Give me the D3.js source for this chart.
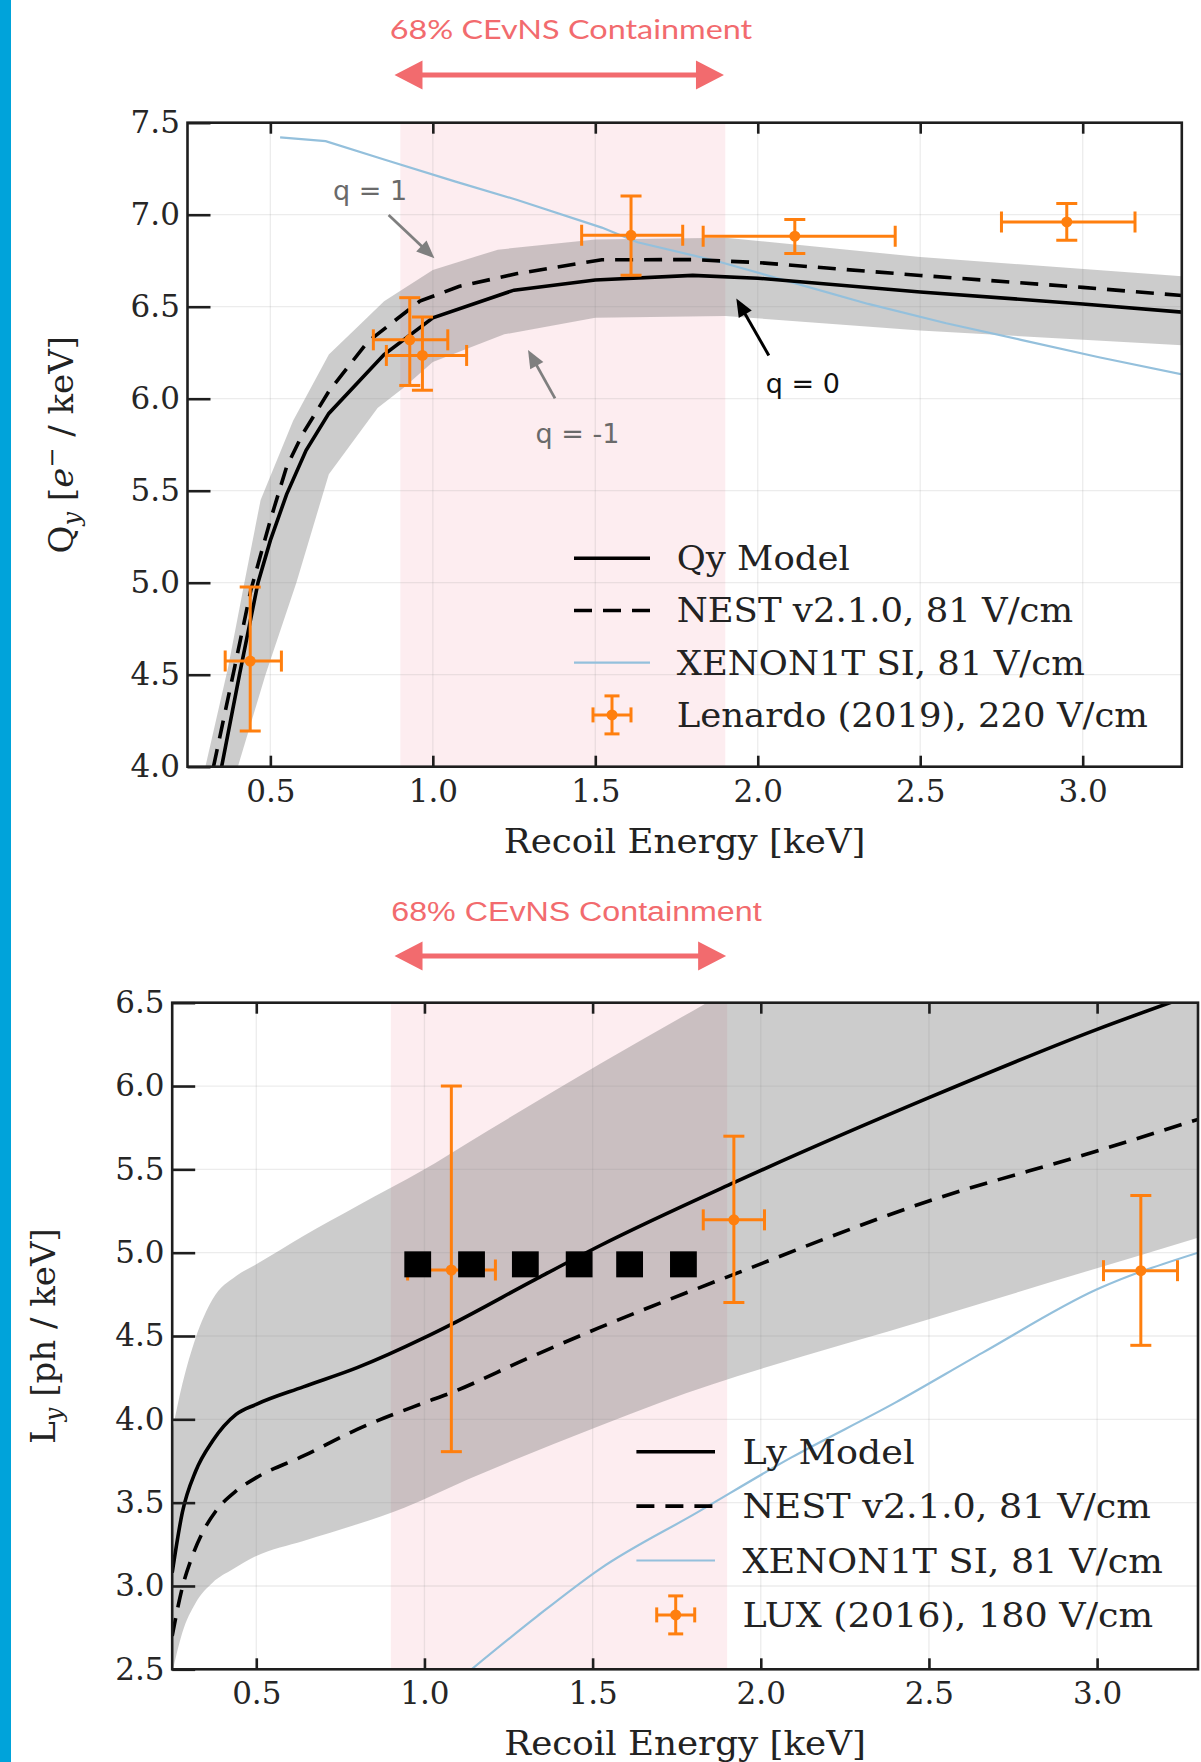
<!DOCTYPE html>
<html>
<head>
<meta charset="utf-8">
<script src="https://cdn.jsdelivr.net/npm/d3@7"></script>
<style>
  html, body { margin: 0; padding: 0; background: #fff; }
  svg { display: block; }
</style>
</head>
<body>
<svg id="fig" width="1201" height="1762"></svg>
<script>
// ---------------- data ----------------
const xTicks = [0.5, 1.0, 1.5, 2.0, 2.5, 3.0];
const qyTicks = [4.0, 4.5, 5.0, 5.5, 6.0, 6.5, 7.0, 7.5];
const lyTicks = [2.5, 3.0, 3.5, 4.0, 4.5, 5.0, 5.5, 6.0, 6.5];

// 68% CEvNS containment window [keV]
const containment = [0.9, 1.9];
const containmentArrowQy = [0.882, 1.896];
const containmentArrowLy = [0.911, 1.897];

// Charge yield panel
const energyQyModel = [0.35, 0.405, 0.462, 0.50, 0.55, 0.61, 0.68, 0.85, 1.00, 1.25, 1.50, 1.80, 2.00, 2.50, 3.00, 3.31];
const qyModel       = [4.00, 4.50, 5.00, 5.23, 5.48, 5.72, 5.92, 6.24, 6.44, 6.59, 6.645, 6.67, 6.655, 6.58, 6.515, 6.47];

const energyNestQy = [0.325, 0.39, 0.44, 0.50, 0.55, 0.60, 0.68, 0.80, 0.96, 1.08, 1.26, 1.52, 1.80, 2.00, 2.50, 3.00, 3.31];
const nestQy       = [4.00, 4.54, 4.96, 5.34, 5.63, 5.81, 6.04, 6.31, 6.53, 6.61, 6.68, 6.755, 6.756, 6.74, 6.67, 6.605, 6.56];

const energyQyUpper = [0.30, 0.37, 0.42, 0.47, 0.57, 0.68, 0.78, 0.85, 1.00, 1.20, 1.50, 1.90, 2.50, 3.31];
const qyUpper       = [4.00, 4.54, 5.00, 5.45, 5.88, 6.24, 6.41, 6.53, 6.70, 6.81, 6.865, 6.875, 6.77, 6.665];
const energyQyLower = [0.40, 0.485, 0.58, 0.68, 0.83, 0.91, 1.00, 1.22, 1.50, 1.90, 2.50, 3.31];
const qyLower       = [4.00, 4.50, 5.00, 5.59, 5.95, 6.06, 6.20, 6.35, 6.44, 6.45, 6.37, 6.29];

const energyXenonQy = [0.53, 0.67, 0.85, 1.07, 1.26, 1.52, 1.63, 1.87, 2.10, 2.34, 2.58, 2.81, 3.05, 3.31];
const xenonQy       = [7.42, 7.40, 7.30, 7.18, 7.08, 6.93, 6.85, 6.75, 6.635, 6.515, 6.41, 6.32, 6.225, 6.13];

const lenardoE    = [0.438, 0.929, 0.968, 1.610, 2.114, 2.951];
const lenardoQy   = [4.574, 6.320, 6.235, 6.888, 6.883, 6.961];
const lenardoElo  = [0.361, 0.817, 0.857, 1.458, 1.832, 2.750];
const lenardoEhi  = [0.534, 1.046, 1.104, 1.769, 2.423, 3.161];
const lenardoQylo = [4.194, 6.072, 6.046, 6.671, 6.789, 6.861];
const lenardoQyhi = [4.976, 6.549, 6.444, 7.101, 6.974, 7.061];

// Light yield panel
const energyLyModel = [0.25, 0.28, 0.32, 0.37, 0.44, 0.50, 0.64, 0.80, 1.00, 1.08, 1.33, 1.52, 1.92, 2.50, 3.00, 3.30];
const lyModel       = [3.08, 3.44, 3.69, 3.87, 4.03, 4.09, 4.195, 4.31, 4.49, 4.57, 4.84, 5.04, 5.42, 5.93, 6.34, 6.56];

const energyNestLy = [0.25, 0.28, 0.31, 0.34, 0.38, 0.44, 0.50, 0.64, 0.80, 1.00, 1.08, 1.30, 1.52, 1.92, 2.50, 3.00, 3.30];
const nestLy       = [2.70, 2.99, 3.18, 3.32, 3.45, 3.57, 3.65, 3.78, 3.94, 4.10, 4.16, 4.36, 4.55, 4.87, 5.31, 5.61, 5.80];

const energyLyUpper = [0.25, 0.28, 0.32, 0.37, 0.44, 0.50, 0.64, 0.80, 1.00, 1.13, 1.52, 1.84, 3.30];
const lyUpper       = [3.93, 4.21, 4.49, 4.72, 4.86, 4.93, 5.10, 5.28, 5.50, 5.66, 6.13, 6.50, 8.18];
const energyLyLower = [0.25, 0.28, 0.32, 0.37, 0.43, 0.50, 0.64, 0.80, 0.94, 1.13, 1.52, 1.70, 2.50, 3.30];
const lyLower       = [2.48, 2.72, 2.90, 3.02, 3.10, 3.18, 3.27, 3.37, 3.47, 3.64, 3.96, 4.10, 4.60, 5.09];

const energyXenonLy = [1.14, 1.33, 1.52, 1.81, 2.09, 2.40, 2.66, 3.00, 3.30];
const xenonLy       = [2.50, 2.81, 3.10, 3.44, 3.77, 4.10, 4.40, 4.78, 5.00];

const luxE    = [1.080, 1.920, 3.130];
const luxLy   = [4.896, 5.197, 4.892];
const luxElo  = [0.950, 1.829, 3.019];
const luxEhi  = [1.211, 2.011, 3.239];
const luxLylo = [3.806, 4.701, 4.444];
const luxLyhi = [6.000, 5.699, 5.343];

const squareE  = [0.98, 1.14, 1.30, 1.46, 1.61, 1.77];
const squareLy = [4.93, 4.93, 4.93, 4.93, 4.93, 4.93];

const legendQy = ["Qy Model", "NEST v2.1.0, 81 V/cm", "XENON1T SI, 81 V/cm", "Lenardo (2019), 220 V/cm"];
const legendLy = ["Ly Model", "NEST v2.1.0, 81 V/cm", "XENON1T SI, 81 V/cm", "LUX (2016), 180 V/cm"];

// ---------------- styling ----------------
const SERIF = "'DejaVu Serif', serif";
const SANS = "'DejaVu Sans', sans-serif";
const ORANGE = "#ff7f0e";
const BLUE = "#94c0dc";
const SALMON = "#f26b6e";
const PINK = "#fdedf0";
const INK = "#1e1e1e";

const svg = d3.select("#fig");
const defs = svg.append("defs");

// accent bar along the left edge
svg.append("rect").attr("x", 0).attr("y", 0).attr("width", 11).attr("height", 1762).attr("fill", "#00a3da");

const zip = (a, b) => a.map((v, i) => [v, b[i]]);

function errorbars(g, x, y, E, V, Elo, Ehi, Vlo, Vhi) {
  const cap = 10.5, lw = 3;
  E.forEach((e, i) => {
    const cx = x(e), cy = y(V[i]);
    const gg = g.append("g").attr("stroke", ORANGE).attr("stroke-width", lw).attr("fill", "none");
    gg.append("line").attr("x1", x(Elo[i])).attr("x2", x(Ehi[i])).attr("y1", cy).attr("y2", cy);
    gg.append("line").attr("x1", cx).attr("x2", cx).attr("y1", y(Vlo[i])).attr("y2", y(Vhi[i]));
    gg.append("line").attr("x1", x(Elo[i])).attr("x2", x(Elo[i])).attr("y1", cy - cap).attr("y2", cy + cap);
    gg.append("line").attr("x1", x(Ehi[i])).attr("x2", x(Ehi[i])).attr("y1", cy - cap).attr("y2", cy + cap);
    gg.append("line").attr("x1", cx - cap).attr("x2", cx + cap).attr("y1", y(Vlo[i])).attr("y2", y(Vlo[i]));
    gg.append("line").attr("x1", cx - cap).attr("x2", cx + cap).attr("y1", y(Vhi[i])).attr("y2", y(Vhi[i]));
    g.append("circle").attr("cx", cx).attr("cy", cy).attr("r", 5.5).attr("fill", ORANGE);
  });
}

function pointer(g, x1, y1, x2, y2, color, lw, hl, hw) {
  const dx = x2 - x1, dy = y2 - y1, L = Math.hypot(dx, dy), ux = dx / L, uy = dy / L;
  const bx = x2 - ux * hl, by = y2 - uy * hl;
  g.append("line").attr("x1", x1).attr("y1", y1).attr("x2", bx + ux * 2).attr("y2", by + uy * 2)
    .attr("stroke", color).attr("stroke-width", lw);
  g.append("path")
    .attr("d", `M${x2},${y2}L${bx - uy * hw / 2},${by + ux * hw / 2}L${bx + uy * hw / 2},${by - ux * hw / 2}Z`)
    .attr("fill", color);
}

function doubleArrow(g, x1, x2, yc, color) {
  const hl = 28, hw = 14.5, sw = 2.6;
  const d = `M${x1},${yc}L${x1 + hl},${yc - hw}L${x1 + hl},${yc - sw}L${x2 - hl},${yc - sw}L${x2 - hl},${yc - hw}` +
            `L${x2},${yc}L${x2 - hl},${yc + hw}L${x2 - hl},${yc + sw}L${x1 + hl},${yc + sw}L${x1 + hl},${yc + hw}Z`;
  g.append("path").attr("d", d).attr("fill", color);
}

function drawPanel(cfg) {
  const g = svg.append("g");
  const x = d3.scaleLinear().domain(cfg.xDomain).range([cfg.left, cfg.right]);
  const y = d3.scaleLinear().domain(cfg.yDomain).range([cfg.bottom, cfg.top]);
  const w = cfg.right - cfg.left, h = cfg.bottom - cfg.top;

  defs.append("clipPath").attr("id", cfg.id + "-clip")
    .append("rect").attr("x", cfg.left).attr("y", cfg.top).attr("width", w).attr("height", h);
  const plot = g.append("g").attr("clip-path", `url(#${cfg.id}-clip)`);

  // containment window
  plot.append("rect").attr("x", x(containment[0])).attr("width", x(containment[1]) - x(containment[0]))
    .attr("y", cfg.top).attr("height", h).attr("fill", PINK);

  // q = -1 .. +1 uncertainty band
  const line = d3.line().x(d => x(d[0])).y(d => y(d[1])).curve(cfg.curve);
  const upPath = line(zip(cfg.upperE, cfg.upperV));
  const loPath = line(zip(cfg.lowerE, cfg.lowerV).reverse());
  plot.append("path").attr("d", upPath + "L" + loPath.slice(1) + "Z")
    .attr("fill", "#555").attr("fill-opacity", 0.3);

  // grid
  const grid = plot.append("g").attr("stroke", "#888").attr("stroke-opacity", 0.16).attr("stroke-width", 1.3);
  xTicks.forEach(t => grid.append("line").attr("x1", x(t)).attr("x2", x(t)).attr("y1", cfg.top).attr("y2", cfg.bottom));
  cfg.yTicks.forEach(t => grid.append("line").attr("x1", cfg.left).attr("x2", cfg.right).attr("y1", y(t)).attr("y2", y(t)));

  // curves
  plot.append("path").attr("d", line(zip(cfg.xenonE, cfg.xenonV))).attr("fill", "none")
    .attr("stroke", BLUE).attr("stroke-width", 2.2);
  plot.append("path").attr("d", line(zip(cfg.nestE, cfg.nestV))).attr("fill", "none")
    .attr("stroke", "#000").attr("stroke-width", 3.6).attr("stroke-dasharray", "18,11");
  plot.append("path").attr("d", line(zip(cfg.modelE, cfg.modelV))).attr("fill", "none")
    .attr("stroke", "#000").attr("stroke-width", 3.6);

  // measurements
  errorbars(plot, x, y, cfg.dataE, cfg.dataV, cfg.dataElo, cfg.dataEhi, cfg.dataVlo, cfg.dataVhi);

  if (cfg.squaresE) {
    cfg.squaresE.forEach((e, i) => {
      plot.append("rect").attr("x", x(e) - 13.4).attr("y", y(cfg.squaresV[i]) - 13)
        .attr("width", 26.8).attr("height", 26).attr("fill", "#000");
    });
  }

  // axes
  const axB = g.append("g").attr("transform", `translate(0,${cfg.bottom})`)
    .call(d3.axisBottom(x).tickValues(xTicks).tickSize(-11).tickPadding(13).tickFormat(d3.format(".1f")));
  const axT = g.append("g").attr("transform", `translate(0,${cfg.top})`)
    .call(d3.axisTop(x).tickValues(xTicks).tickSize(-11).tickFormat(""));
  const axL = g.append("g").attr("transform", `translate(${cfg.left},0)`)
    .call(d3.axisLeft(y).tickValues(cfg.yTicks).tickSize(-23).tickPadding(7.6).tickFormat(d3.format(".1f")));
  [axB, axT, axL].forEach(a => {
    a.select(".domain").remove();
    a.selectAll(".tick line").attr("stroke", INK).attr("stroke-width", 2.6);
    a.selectAll(".tick text").attr("fill", "#262626").style("font-family", SERIF).style("font-size", "31px");
  });

  // frame
  g.append("rect").attr("x", cfg.left).attr("y", cfg.top).attr("width", w).attr("height", h)
    .attr("fill", "none").attr("stroke", INK).attr("stroke-width", 2.6);

  // axis titles
  g.append("text")
    .attr("transform", `translate(${(cfg.left + cfg.right) / 2},${cfg.xLabelY}) scale(1.05,1)`)
    .attr("text-anchor", "middle").style("font-family", SERIF).style("font-size", "34px").attr("fill", "#222")
    .text("Recoil Energy [keV]");

  const yl = g.append("text")
    .attr("transform", `translate(${cfg.yLabelX},${(cfg.top + cfg.bottom) / 2}) rotate(-90)`)
    .attr("text-anchor", "middle").style("font-family", SERIF).style("font-size", "34px").attr("fill", "#222");
  cfg.yLabel(yl);

  // containment annotation above the frame
  const ca = cfg.arrow;
  doubleArrow(g, x(ca[0]), x(ca[1]), cfg.arrowY, SALMON);
  g.append("text")
    .attr("transform", `translate(${x(cfg.titleE)},${cfg.titleY}) scale(${cfg.titleStretch},1)`)
    .attr("text-anchor", "middle").style("font-family", cfg.titleFont).style("font-size", cfg.titleSize + "px")
    .attr("fill", SALMON).text("68% CEvNS Containment");

  // legend
  const L = cfg.legend;
  const lg = g.append("g");
  cfg.legendLabels.forEach((lab, i) => {
    const cy = L.y0 + i * L.dy;
    if (i === 0) {
      lg.append("line").attr("x1", L.x0).attr("x2", L.x1).attr("y1", cy).attr("y2", cy)
        .attr("stroke", "#000").attr("stroke-width", 3.6);
    } else if (i === 1) {
      lg.append("line").attr("x1", L.x0).attr("x2", L.x1).attr("y1", cy).attr("y2", cy)
        .attr("stroke", "#000").attr("stroke-width", 3.6).attr("stroke-dasharray", "18,11");
    } else if (i === 2) {
      lg.append("line").attr("x1", L.x0).attr("x2", L.x1).attr("y1", cy).attr("y2", cy)
        .attr("stroke", BLUE).attr("stroke-width", 2.2);
    } else {
      const cx = (L.x0 + L.x1) / 2, r = 19, c = 7.5;
      const eg = lg.append("g").attr("stroke", ORANGE).attr("stroke-width", 3);
      eg.append("line").attr("x1", cx - r).attr("x2", cx + r).attr("y1", cy).attr("y2", cy);
      eg.append("line").attr("x1", cx).attr("x2", cx).attr("y1", cy - r).attr("y2", cy + r);
      eg.append("line").attr("x1", cx - r).attr("x2", cx - r).attr("y1", cy - c).attr("y2", cy + c);
      eg.append("line").attr("x1", cx + r).attr("x2", cx + r).attr("y1", cy - c).attr("y2", cy + c);
      eg.append("line").attr("x1", cx - c).attr("x2", cx + c).attr("y1", cy - r).attr("y2", cy - r);
      eg.append("line").attr("x1", cx - c).attr("x2", cx + c).attr("y1", cy + r).attr("y2", cy + r);
      lg.append("circle").attr("cx", cx).attr("cy", cy).attr("r", 5.5).attr("fill", ORANGE);
    }
    lg.append("text").attr("transform", `translate(${L.tx},${cy}) scale(1.075,1)`).attr("dy", "0.36em")
      .style("font-family", SERIF).style("font-size", L.size + "px").attr("fill", "#222").text(lab);
  });

  return { g, x, y };
}

// ---------------- charge yield ----------------
const qyPanel = drawPanel({
  id: "qy", left: 187.5, right: 1181.8, top: 122.7, bottom: 766.7,
  xDomain: [0.245, 3.305], yDomain: [4.0, 7.5], yTicks: qyTicks,
  curve: d3.curveLinear,
  upperE: energyQyUpper, upperV: qyUpper, lowerE: energyQyLower, lowerV: qyLower,
  xenonE: energyXenonQy, xenonV: xenonQy,
  nestE: energyNestQy, nestV: nestQy,
  modelE: energyQyModel, modelV: qyModel,
  dataE: lenardoE, dataV: lenardoQy, dataElo: lenardoElo, dataEhi: lenardoEhi, dataVlo: lenardoQylo, dataVhi: lenardoQyhi,
  xLabelY: 853, yLabelX: 73,
  yLabel: t => {
    t.append("tspan").text("Q");
    t.append("tspan").attr("font-style", "italic").attr("font-size", "24px").attr("dy", "7").text("y");
    t.append("tspan").attr("dy", "-7").text(" [");
    t.append("tspan").attr("font-style", "italic").text("e");
    t.append("tspan").attr("font-size", "24px").attr("dy", "-13").text("\u2212");
    t.append("tspan").attr("dy", "13").text(" / keV]");
  },
  arrow: containmentArrowQy, arrowY: 75, titleE: 1.425, titleY: 39.3,
  titleFont: "Lato, sans-serif", titleSize: 27, titleStretch: 1.2,
  legendLabels: legendQy,
  legend: { x0: 574, x1: 650, tx: 676.7, y0: 558.3, dy: 52.2, size: 33 }
});

// q annotations
{
  const { g, x, y } = qyPanel;
  const GRAY = "#7f7f7f";
  pointer(g, x(0.864), y(6.998), x(1.005), y(6.763), GRAY, 2.8, 18, 15);
  pointer(g, x(1.376), y(6.002), x(1.293), y(6.265), GRAY, 2.8, 18, 15);
  pointer(g, x(2.034), y(6.235), x(1.934), y(6.544), "#000", 3, 18, 15);
  const lab = (e, v, s, c) => g.append("text").attr("x", x(e)).attr("y", y(v)).attr("text-anchor", "middle")
    .style("font-family", SANS).style("font-size", "27px").attr("fill", c).text(s);
  lab(0.807, 7.08, "q = 1", "#6a6a6a");
  lab(1.445, 5.759, "q = -1", "#6a6a6a");
  lab(2.139, 6.029, "q = 0", "#111");
}

// ---------------- light yield ----------------
const lyPanel = drawPanel({
  id: "ly", left: 172.2, right: 1198, top: 1002.7, bottom: 1669.3,
  xDomain: [0.25, 3.3], yDomain: [2.5, 6.5], yTicks: lyTicks,
  curve: d3.curveMonotoneX,
  upperE: energyLyUpper, upperV: lyUpper, lowerE: energyLyLower, lowerV: lyLower,
  xenonE: energyXenonLy, xenonV: xenonLy,
  nestE: energyNestLy, nestV: nestLy,
  modelE: energyLyModel, modelV: lyModel,
  dataE: luxE, dataV: luxLy, dataElo: luxElo, dataEhi: luxEhi, dataVlo: luxLylo, dataVhi: luxLyhi,
  squaresE: squareE, squaresV: squareLy,
  xLabelY: 1755, yLabelX: 55,
  yLabel: t => {
    t.append("tspan").text("L");
    t.append("tspan").attr("font-style", "italic").attr("font-size", "24px").attr("dy", "7").text("y");
    t.append("tspan").attr("dy", "-7").text(" [ph / keV]");
  },
  arrow: containmentArrowLy, arrowY: 956, titleE: 1.452, titleY: 920.7,
  titleFont: "'Liberation Sans', sans-serif", titleSize: 28, titleStretch: 1.15,
  legendLabels: legendLy,
  legend: { x0: 636.4, x1: 715, tx: 742.6, y0: 1451.7, dy: 54.4, size: 34 }
});
</script>
</body>
</html>
